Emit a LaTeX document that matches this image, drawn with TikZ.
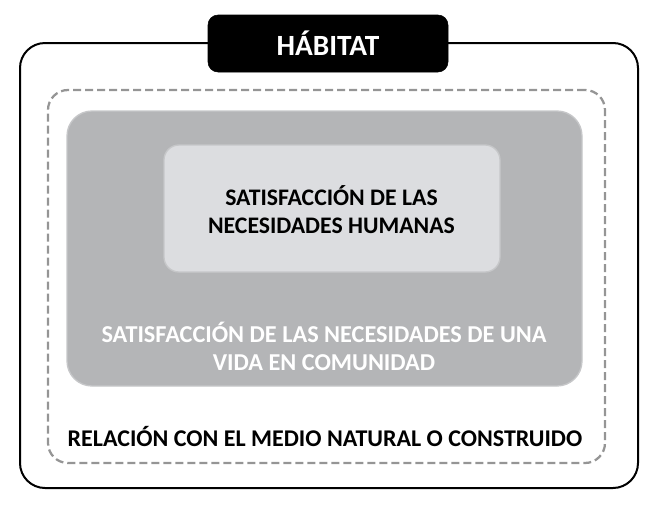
\documentclass[tikz,border=0pt]{standalone}
\usepackage{fontspec}
\setmainfont{Carlito}
\usetikzlibrary{shapes}

\definecolor{darkbox}{HTML}{B4B5B7}
\definecolor{lightbox}{HTML}{DCDDE0}
\definecolor{lightrim}{HTML}{C6C7C9}
\definecolor{dashgray}{HTML}{959595}

\begin{document}
\begin{tikzpicture} [x=0.75pt, y=-0.75pt]
\tikzstyle{every node}=[font=\bfseries, inner sep=0pt, align=center]
\tikzstyle{frame}=[draw, rectangle]

\useasboundingbox (0,0) rectangle (650,504);

\path (329,265.5) coordinate (hab);

% outer frame and title
\path (hab) node[frame, line width=1.5pt, rounded corners=18.75pt,
  minimum width=463.5pt, minimum height=333.75pt] (hab_out){};
\path (328,43.5) node[frame, fill=black, rounded corners=7.5pt,
  minimum width=180pt, minimum height=42.75pt,
  text=white, font=\bfseries\fontsize{22}{26}\selectfont] (hab_title){H\'ABITAT};

% dashed region
\path (326.5,276.5) node[frame, draw=dashgray, line width=1.7pt,
  dash pattern=on 6pt off 3pt, rounded corners=15pt,
  minimum width=417.75pt, minimum height=279.75pt] (hab_dash){};

% community box
\path (324.5,248.5) node[frame, draw=lightrim, fill=darkbox, line width=1pt,
  rounded corners=18.75pt,
  minimum width=386.25pt, minimum height=206.25pt] (hab_com){};

% human needs box
\path (332,208.5) node[frame, draw=lightrim, fill=lightbox, line width=1pt,
  rounded corners=11.25pt,
  minimum width=252pt, minimum height=95.25pt] (hab_hum){};

\path (331.5,209.5) node[font=\bfseries\fontsize{17.8}{20.5}\selectfont]
  (t_hum){SATISFACCI\'ON DE LAS\\NECESIDADES HUMANAS};
\path (324,346) node[text=white, font=\bfseries\fontsize{18.2}{21}\selectfont]
  (t_com){SATISFACCI\'ON DE LAS NECESIDADES DE UNA\\VIDA EN COMUNIDAD};
\path (325,437) node[font=\bfseries\fontsize{18}{20}\selectfont]
  (t_rel){RELACI\'ON CON EL MEDIO NATURAL O CONSTRUIDO};
\end{tikzpicture}
\end{document}
